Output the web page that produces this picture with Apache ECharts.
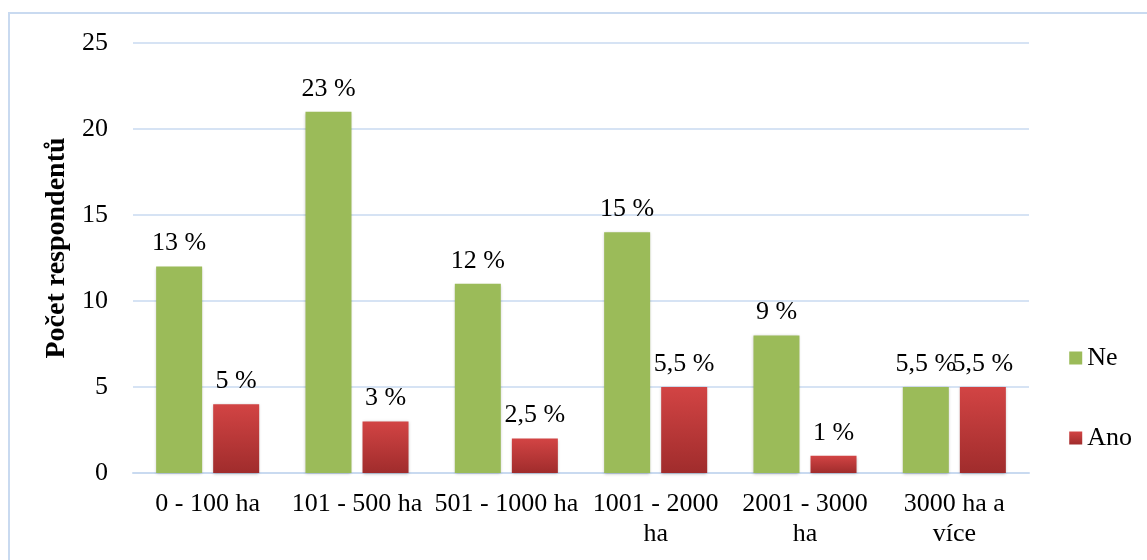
<!DOCTYPE html>
<html><head><meta charset="utf-8">
<script src="https://cdn.jsdelivr.net/npm/echarts@6/dist/echarts.min.js"></script>
<style>html,body{margin:0;padding:0;background:#fff}#c{width:1147px;height:560px}
#frame{position:absolute;left:8px;top:12px;width:1200px;height:600px;border:2px solid #c9daf0;box-sizing:border-box;pointer-events:none}</style>
</head><body>
<div id="c"></div><div id="frame"></div>
<script>
const categories = ['0 - 100 ha','101 - 500 ha','501 - 1000 ha','1001 - 2000\nha','2001 - 3000\nha','3000 ha a\nvíce'];
const neValues = [12, 21, 11, 14, 8, 5];
const anoValues = [4, 3, 2, 5, 1, 5];
const neLabels = ['13 %','23 %','12 %','15 %','9 %','5,5 %'];
const anoLabels = ['5 %','3 %','2,5 %','5,5 %','1 %','5,5 %'];
const yTicks = {min:0, max:25, interval:5};

const font = 'Liberation Serif';
const chart = echarts.init(document.getElementById('c'));
chart.setOption({
  animation:false,
  grid:{left:133, right:118, top:43, bottom:87},
  legend:{
    orient:'vertical', right:10, top:340, itemGap:54, itemWidth:13, itemHeight:13,
    icon:'rect',
    textStyle:{fontFamily:font, fontSize:26, color:'#000'},
    data:['Ne','Ano']
  },
  xAxis:{
    type:'category', data:categories,
    axisTick:{show:false},
    axisLine:{lineStyle:{color:'#c9daf0', width:2}},
    axisLabel:{fontFamily:font, fontSize:26, color:'#000', lineHeight:30, margin:16, interval:0}
  },
  yAxis:{
    type:'value', min:yTicks.min, max:yTicks.max, interval:yTicks.interval,
    name:'Počet respondentů', nameLocation:'middle', nameGap:60,
    nameTextStyle:{fontFamily:font, fontSize:28, fontWeight:'bold', color:'#000', padding:[0,0,0,20]},
    axisLine:{show:false}, axisTick:{show:false},
    axisLabel:{fontFamily:font, fontSize:26, color:'#000', margin:25},
    splitLine:{lineStyle:{color:'#c9daf0', width:1.5}}
  },
  series:[
    {name:'Ne', type:'bar', data:neValues, barWidth:46, barGap:'24%',
     itemStyle:{color:'#9bbb59', shadowColor:'rgba(0,0,0,0.25)', shadowBlur:3, shadowOffsetY:1},
     label:{show:true, position:'top', distance:10, fontFamily:font, fontSize:26, color:'#000',
       formatter:p=>neLabels[p.dataIndex]}},
    {name:'Ano', type:'bar', data:anoValues, barWidth:46,
     itemStyle:{color:new echarts.graphic.LinearGradient(0,0,0,1,[{offset:0,color:'#d24444'},{offset:1,color:'#a02c2c'}]),
       shadowColor:'rgba(0,0,0,0.25)', shadowBlur:3, shadowOffsetY:1},
     label:{show:true, position:'top', distance:10, fontFamily:font, fontSize:26, color:'#000',
       formatter:p=>anoLabels[p.dataIndex]}}
  ]
});
</script></body></html>
